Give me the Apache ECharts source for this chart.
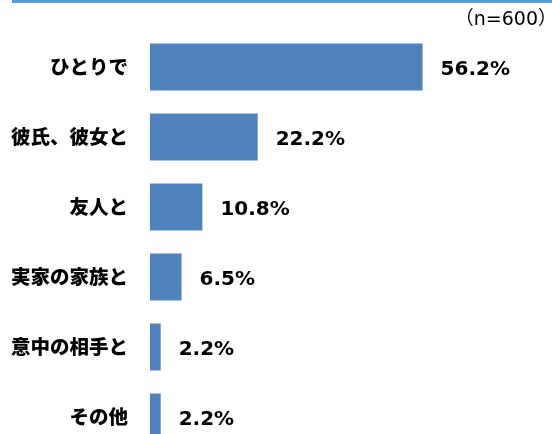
<!DOCTYPE html>
<html>
<head>
<meta charset="utf-8">
<script src="https://cdn.jsdelivr.net/npm/echarts@6/dist/echarts.min.js"></script>
<style>
html,body{margin:0;padding:0;background:#fff;}
#chart{width:552px;height:434px;}
</style>
</head>
<body>
<div id="chart"></div>
<script>
var categories = ['ひとりで', '彼氏、彼女と', '友人と', '実家の家族と', '意中の相手と', 'その他'];
var values = [56.2, 22.2, 10.8, 6.5, 2.2, 2.2];
var sampleNote = '（n=600）';

var myChart = echarts.init(document.getElementById('chart'));

var option = {
    animation: false,
    grid: {
        left: 150,
        top: 32,
        width: 291,
        height: 420,
        outerBoundsMode: 'none'
    },
    graphic: [
        {
            type: 'rect',
            shape: { x: 12, y: 0, width: 540, height: 3 },
            style: { fill: '#5b9bd5' }
        },
        {
            type: 'text',
            right: -5,
            top: 11,
            style: {
                text: sampleNote,
                fontSize: 19,
                fontFamily: 'DejaVu Sans, Noto Sans CJK JP',
                fill: '#000'
            }
        }
    ],
    xAxis: {
        type: 'value',
        min: 0,
        max: 60,
        show: false
    },
    yAxis: {
        type: 'category',
        inverse: true,
        data: categories,
        axisLine: { show: false },
        axisTick: { show: false },
        axisLabel: {
            margin: 22,
            fontSize: 19.5,
            fontWeight: 900,
            color: '#000',
            fontFamily: 'Noto Sans CJK JP'
        }
    },
    series: [{
        type: 'bar',
        data: values,
        barWidth: 47,
        itemStyle: { color: '#4f81bd' },
        label: {
            show: true,
            position: 'right',
            distance: 18,
            offset: [0, 3],
            fontSize: 20,
            fontWeight: 'bold',
            color: '#000',
            fontFamily: 'DejaVu Sans',
            formatter: function (p) { return p.value.toFixed(1) + '%'; }
        }
    }]
};
myChart.setOption(option);
</script>
</body>
</html>
